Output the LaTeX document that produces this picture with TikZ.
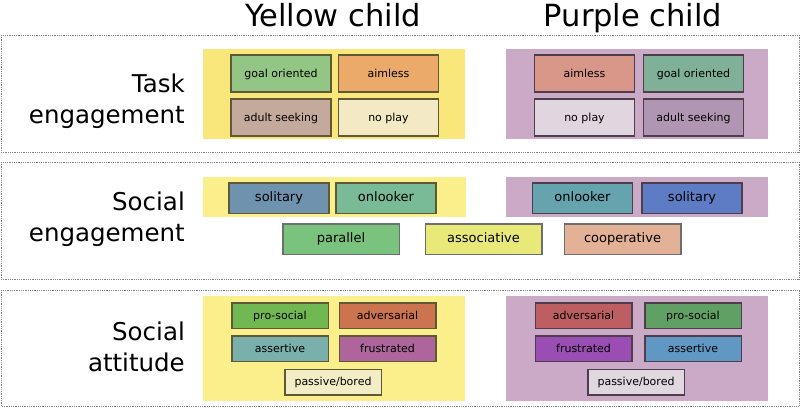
\documentclass[tikz,border=0pt]{standalone}
\usepackage{fontspec}
\setmainfont{DejaVu Sans}
\usepackage{tikz}

\definecolor{yband}{HTML}{FAE77C}
\definecolor{ybandlt}{HTML}{FBEF8C}
\definecolor{pband}{HTML}{CBAAC7}
\definecolor{yedge}{HTML}{5F5835}
\definecolor{pedge}{HTML}{4E3E4C}
\definecolor{gedge}{HTML}{6E6E6E}

\begin{document}
\begin{tikzpicture}[x=1pt,y=-1pt,
    panel/.style={draw=gray, densely dotted, line width=0.8pt},
    head/.style={font=\fontsize{30.5}{36}\selectfont, anchor=base},
    side/.style={font=\fontsize{24.5}{31}\selectfont, align=right, anchor=east, inner xsep=0pt},
    cat/.style={draw, line width=1.5pt, inner sep=0pt, minimum width=100pt,
        minimum height=37pt, text height=0.8em, text depth=0.1em,
        font=\fontsize{11}{13}\selectfont},
    ycat/.style={cat, draw=yedge},
    pcat/.style={cat, draw=pedge},
    soc/.style={minimum height=30.5pt, font=\fontsize{13}{15}\selectfont},
    att/.style={minimum width=96.5pt, minimum height=25.5pt}]
    \useasboundingbox (0,0) rectangle (800,407);

    \node[head] (yhead) at (333,26) {Yellow child};
    \node[head] (phead) at (633,26) {Purple child};

    % task engagement
    \draw[panel] (1,35) rectangle (799,152);
    \node[side] (task) at (185,101) {Task\\engagement};
    \fill[yband] (203,49) rectangle (465,139);
    \fill[pband] (506,49) rectangle (768,139);
    \node[ycat, fill={rgb,255:red,147;green,197;blue,132}] (ygoal) at (281,73.5) {goal oriented};
    \node[ycat, fill={rgb,255:red,235;green,170;blue,106}] (yaimless) at (388.5,73.5) {aimless};
    \node[ycat, fill={rgb,255:red,196;green,170;blue,156}] (yadult) at (281,117.5) {adult seeking};
    \node[ycat, fill={rgb,255:red,243;green,234;blue,197}] (ynoplay) at (388.5,117.5) {no play};
    \node[pcat, fill={rgb,255:red,217;green,151;blue,138}] (paimless) at (584.5,73.5) {aimless};
    \node[pcat, fill={rgb,255:red,128;green,176;blue,152}] (pgoal) at (693.5,73.5) {goal oriented};
    \node[pcat, fill={rgb,255:red,224;green,214;blue,223}] (pnoplay) at (584.5,117.5) {no play};
    \node[pcat, fill={rgb,255:red,177;green,150;blue,179}] (padult) at (693.5,117.5) {adult seeking};

    % social engagement
    \draw[panel] (1,162) rectangle (799,279);
    \node[side] (soceng) at (185,219.5) {Social\\engagement};
    \fill[ybandlt] (203,177) rectangle (466,217);
    \fill[pband] (506,177) rectangle (768,217);
    \node[ycat, soc, fill={rgb,255:red,111;green,146;blue,175}] (ysolitary) at (279,198) {solitary};
    \node[ycat, soc, fill={rgb,255:red,121;green,186;blue,151}] (yonlooker) at (386,198) {onlooker};
    \node[pcat, soc, fill={rgb,255:red,101;green,163;blue,175}] (ponlooker) at (582.5,198) {onlooker};
    \node[pcat, soc, fill={rgb,255:red,94;green,124;blue,196}] (psolitary) at (692,198) {solitary};
    \node[cat, soc, draw=gedge, minimum width=116.5pt, fill={rgb,255:red,121;green,195;blue,126}] (parallel) at (341,239) {parallel};
    \node[cat, soc, draw=gedge, minimum width=116.5pt, fill={rgb,255:red,233;green,233;blue,122}] (assoc) at (483.5,239) {associative};
    \node[cat, soc, draw=gedge, minimum width=116.5pt, fill={rgb,255:red,227;green,177;blue,150}] (coop) at (622.5,239) {cooperative};

    % social attitude
    \draw[panel] (1,290) rectangle (799,406);
    \node[side] (socatt) at (185,347) {Social\\attitude};
    \fill[ybandlt] (203,296) rectangle (465,401);
    \fill[pband] (506,296) rectangle (768,401);
    \node[ycat, att, fill={rgb,255:red,114;green,184;blue,82}] (ypro) at (280,315.5) {pro-social};
    \node[ycat, att, fill={rgb,255:red,203;green,116;blue,79}] (yadv) at (387.5,315.5) {adversarial};
    \node[ycat, att, fill={rgb,255:red,121;green,176;blue,172}] (yassert) at (280,348.5) {assertive};
    \node[ycat, att, fill={rgb,255:red,173;green,101;blue,156}] (yfrust) at (387.5,348.5) {frustrated};
    \node[ycat, att, fill={rgb,255:red,243;green,237;blue,198}] (ypassive) at (333,382) {passive/bored};
    \node[pcat, att, fill={rgb,255:red,189;green,95;blue,98}] (padv) at (583.5,315.5) {adversarial};
    \node[pcat, att, fill={rgb,255:red,97;green,160;blue,101}] (ppro) at (693,315.5) {pro-social};
    \node[pcat, att, fill={rgb,255:red,154;green,77;blue,178}] (pfrust) at (583.5,348.5) {frustrated};
    \node[pcat, att, fill={rgb,255:red,97;green,152;blue,195}] (passert) at (693,348.5) {assertive};
    \node[pcat, att, fill={rgb,255:red,225;green,215;blue,223}] (ppassive) at (636,382) {passive/bored};
\end{tikzpicture}
\end{document}
